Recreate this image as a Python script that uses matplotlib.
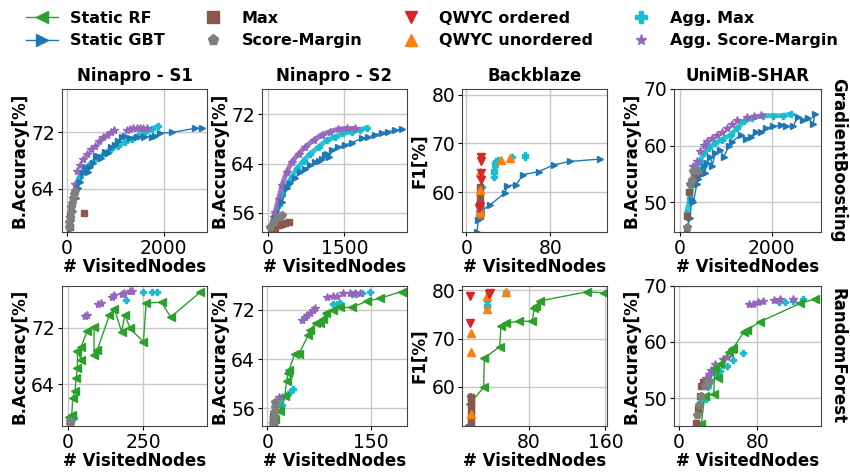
import matplotlib.pyplot as plt
from matplotlib.lines import Line2D

# ---- Ninapro - S1, GradientBoosting ----
s1_gb_gbt = [(56, 58.2), (90, 59.5), (125, 60.8), (180, 62.6), (229, 64.1), (280, 65.0), (333, 66.2),
             (403, 66.9), (440, 66.4), (472, 67.1), (540, 67.6), (611, 68.7), (646, 68.7), (700, 68.4),
             (785, 69.2), (850, 69.0), (924, 69.9), (1000, 70.2), (1063, 70.8), (1132, 71.3), (1201, 71.5),
             (1300, 71.2), (1450, 71.3), (1600, 71.4), (1757, 71.4), (1826, 71.5), (1931, 71.9),
             (2174, 72.0), (2660, 72.6), (2799, 72.6)]
s1_gb_max = [(56, 60.1), (60, 58.5), (347, 60.5)]
s1_gb_sm = [(35, 58.5), (49, 59.2), (62, 59.9), (76, 60.6), (90, 61.3), (111, 62.0), (125, 62.7),
            (139, 63.2), (160, 63.6)]
s1_gb_amax = [(60, 58.5), (90, 59.9), (146, 62.7), (194, 64.6), (264, 65.7), (368, 66.9), (507, 67.6),
              (645, 68.3), (784, 69.0), (923, 69.7), (1062, 70.1), (1201, 70.6), (1340, 71.1),
              (1479, 71.5), (1618, 72.0), (1756, 72.5), (1895, 72.9)]
s1_gb_asm = [(160, 64.6), (215, 66.5), (264, 67.3), (333, 68.2), (423, 68.9), (507, 69.7), (576, 70.1),
             (660, 70.8), (750, 71.3), (840, 71.6), (923, 72.0), (979, 72.3), (1236, 72.3), (1306, 72.5),
             (1375, 72.6), (1444, 72.6), (1514, 72.6), (1583, 72.6), (1653, 72.6)]

# ---- Ninapro - S2, GradientBoosting ----
s2_gb_gbt = [(90, 53.2), (149, 55.1), (279, 57.8), (376, 60.0), (441, 60.8), (539, 61.6), (636, 62.7),
             (733, 63.2), (831, 63.7), (928, 64.2), (1000, 64.4), (1058, 64.8), (1123, 65.4), (1155, 65.6),
             (1200, 65.0), (1253, 66.2), (1382, 66.7), (1512, 67.0), (1642, 67.4), (1837, 68.1),
             (1967, 68.3), (2096, 68.7), (2226, 69.0), (2356, 69.2), (2486, 69.4), (2616, 69.6)]
s2_gb_max = [(149, 53.5), (214, 54.0), (279, 54.2), (344, 54.4), (409, 54.5)]
s2_gb_sm = [(52, 53.7), (117, 54.5), (182, 55.1), (247, 55.4), (279, 55.6)]
s2_gb_amax = [(84, 53.5), (149, 55.4), (214, 57.3), (279, 58.9), (376, 60.5), (474, 61.8), (571, 63.2),
              (701, 64.5), (831, 65.6), (993, 66.7), (1155, 67.8), (1317, 68.3), (1480, 68.9),
              (1642, 69.2), (1804, 69.5), (1934, 69.8)]
s2_gb_asm = [(52, 53.5), (117, 55.4), (149, 56.2), (214, 58.3), (279, 60.5), (376, 62.7), (474, 64.3),
             (604, 65.6), (733, 66.7), (896, 67.8), (1058, 68.7), (1220, 69.2), (1382, 69.6),
             (1545, 69.7), (1707, 69.7)]

# ---- Backblaze, GradientBoosting ----
bb_gb_gbt = [(10.2, 51.9), (11.7, 54.3), (14.0, 56.0), (22.9, 57.4), (37.1, 59.9), (38.7, 61.3),
             (47.6, 61.5), (54.0, 63.6), (68.9, 64.2), (83.2, 65.6), (98.4, 66.3), (127.6, 66.8)]
bb_gb_max = [(13.3, 55.0), (13.3, 56.0), (13.3, 57.0), (13.3, 58.0), (13.3, 59.0), (13.3, 60.0),
             (13.3, 61.0)]
bb_gb_sm = [(13.0, 55.2), (13.0, 56.0), (13.0, 57.0)]
bb_gb_qo = [(14.3, 67.2), (14.3, 66.3), (14.3, 63.9), (14.0, 62.5), (13.5, 57.1), (12.0, 56.8)]
bb_gb_qu = [(13.3, 64.2), (12.7, 60.5), (13.3, 56.0), (33.0, 66.6), (41.3, 67.0)]
bb_gb_amax = [(14.9, 61.0), (26.0, 63.2), (26.0, 63.9), (26.7, 64.6), (27.0, 65.3), (27.6, 66.0),
              (28.6, 66.3), (29.8, 66.5), (43.5, 67.3), (56.2, 67.7), (56.2, 67.2)]

# ---- UniMiB-SHAR, GradientBoosting ----
uni_gb_gbt = [(147, 45.1), (220, 47.3), (257, 50.5), (290, 50.0), (367, 53.2), (400, 54.2), (441, 54.9),
              (515, 56.4), (540, 55.2), (588, 57.0), (662, 58.1), (700, 56.5), (772, 58.7), (882, 59.3),
              (950, 58.0), (1066, 59.9), (1139, 60.7), (1323, 61.9), (1430, 61.2), (1544, 61.6),
              (1654, 62.5), (1764, 62.4), (1874, 63.1), (2021, 63.4), (2205, 63.6), (2315, 63.4),
              (2462, 63.4), (2572, 65.1), (2683, 64.5), (2793, 64.9), (2903, 63.8), (2940, 65.6)]
uni_gb_max = [(147, 47.6), (198, 51.9), (257, 53.7), (316, 54.6)]
uni_gb_sm = [(147, 45.6), (220, 53.3), (257, 54.0), (294, 55.6), (367, 55.6)]
uni_gb_amax = [(147, 48.2), (220, 50.8), (294, 54.3), (367, 56.1), (441, 57.3), (515, 58.7), (625, 59.6),
               (772, 60.5), (919, 61.1), (1103, 61.9), (1250, 63.1), (1397, 64.3), (1580, 64.9),
               (1801, 65.3), (2021, 65.3), (2242, 65.3), (2426, 65.6)]
uni_gb_asm = [(294, 56.4), (367, 57.3), (441, 59.0), (515, 60.2), (588, 60.8), (698, 61.3), (808, 61.9),
              (919, 62.5), (1029, 63.1), (1139, 63.8), (1250, 64.6), (1470, 65.0), (1617, 65.3),
              (1764, 65.4)]

# ---- Ninapro - S1, RandomForest ----
s1_rf_rf = [(4.4, 59.4), (13.2, 59.6), (16.5, 62.1), (24.2, 63.1), (27.5, 64.9), (31.9, 66.3),
            (31.9, 68.7), (44.0, 67.5), (44.0, 69.3), (65.0, 71.6), (86.9, 72.1), (86.9, 68.2),
            (97.9, 68.9), (137.8, 73.8), (154.0, 74.7), (178.0, 71.4), (189.0, 73.8), (206.0, 71.9),
            (250.0, 70.0), (259.0, 75.5), (310.0, 75.6), (340.0, 73.5), (437.0, 77.0)]
s1_rf_max = [(8.0, 58.2)]
s1_rf_sm = [(7.7, 58.4), (9.0, 58.8)]
s1_rf_amax = [(13.2, 59.5), (20.9, 59.3), (193.0, 75.95), (248.0, 77.0), (277.0, 77.0), (294.0, 77.0)]
s1_rf_asm = [(57.2, 73.6), (65.0, 73.8), (101.0, 75.4), (109.0, 75.5), (145.0, 76.4), (153.0, 76.6),
             (178.0, 76.7), (187.0, 76.9), (204.0, 77.2), (211.0, 77.2)]

# ---- Ninapro - S2, RandomForest ----
s2_rf_rf = [(8.3, 53.2), (10.7, 54.3), (18.0, 55.5), (25.2, 58.0), (27.7, 60.4), (30.1, 61.8),
            (31.6, 62.3), (39.8, 64.9), (46.1, 64.9), (59.2, 67.9), (61.6, 68.7), (70.4, 69.8),
            (76.2, 69.9), (81.1, 70.6), (84.9, 71.5), (95.6, 72.0), (105.3, 72.4), (122.3, 72.4),
            (144.2, 73.4), (163.6, 73.9), (195.1, 75.0)]
s2_rf_max = [(7.3, 54.8), (8.0, 54.2)]
s2_rf_sm = [(8.0, 53.6), (8.8, 54.5), (9.5, 55.4), (10.2, 56.2), (10.8, 57.0)]
s2_rf_amax = [(18.0, 56.7), (20.4, 56.5), (28.6, 58.1), (32.5, 58.6), (37.4, 59.1), (95.6, 72.9),
              (100.5, 72.9), (105.3, 73.1), (122.3, 74.6), (128.6, 74.6), (136.9, 74.8), (149.0, 75.0)]
s2_rf_asm = [(16.5, 57.8), (20.4, 57.9), (49.5, 70.3), (54.4, 70.8), (57.8, 71.1), (61.6, 71.5),
             (66.5, 72.0), (68.9, 72.3), (86.9, 74.1), (95.6, 74.2), (100.5, 74.3), (110.2, 74.8),
             (119.9, 74.8), (127.2, 74.8), (134.5, 74.8)]

# ---- Backblaze, RandomForest ----
bb_rf_rf = [(17.4, 52.1), (18.4, 56.5), (33.0, 59.9), (33.7, 66.0), (49.7, 68.3), (51.1, 72.7),
            (56.7, 73.2), (69.6, 73.6), (83.5, 73.6), (86.0, 76.3), (88.0, 76.7), (91.5, 77.8),
            (140.9, 79.7), (158.3, 79.5)]
bb_rf_max = [(20.1, 52.2), (20.1, 53.2), (20.1, 54.2), (20.1, 55.2), (20.1, 56.2), (20.1, 57.2),
             (20.1, 58.0)]
bb_rf_qo = [(18.4, 78.8), (18.4, 73.3), (38.3, 79.3), (40.0, 79.5)]
bb_rf_qu = [(20.1, 71.2), (20.1, 67.3), (20.1, 54.4), (36.6, 76.1), (36.6, 78.8), (56.7, 79.7)]
bb_rf_amax = [(19.1, 58.2), (36.6, 77.8), (36.6, 77.0), (36.6, 76.5), (56.7, 79.7)]

# ---- UniMiB-SHAR, RandomForest ----
uni_rf_rf = [(22.9, 45.4), (26.3, 50.4), (35.6, 50.7), (36.6, 55.4), (40.0, 53.6), (41.7, 56.0),
             (51.3, 58.3), (53.7, 58.7), (55.4, 58.9), (66.3, 61.8), (69.1, 62.1), (82.7, 63.6),
             (123.8, 66.9), (139.2, 67.7)]
uni_rf_max = [(17.1, 45.6), (19.5, 48.1), (21.2, 50.4), (22.9, 52.2), (24.6, 52.9), (27.4, 52.7)]
uni_rf_sm = [(18.5, 46.9), (20.5, 48.7), (22.9, 50.4), (26.3, 52.2), (28.7, 52.9), (30.8, 52.9)]
uni_rf_amax = [(21.2, 49.2), (27.4, 49.8), (29.7, 51.9), (31.5, 53.3), (36.6, 54.2), (41.7, 54.8),
               (48.6, 55.7), (55.4, 56.7), (65.0, 58.0), (102.6, 67.1), (108.4, 67.2), (116.9, 67.4),
               (126.5, 67.7)]
uni_rf_asm = [(27.4, 53.5), (30.8, 54.2), (33.2, 55.0), (36.6, 56.1), (45.1, 57.0), (48.6, 57.3),
              (71.8, 66.7), (75.9, 66.8), (81.0, 67.1), (86.2, 67.4), (97.1, 67.5), (103.3, 67.7),
              (116.2, 67.7)]

titles = ["Ninapro - S1", "Ninapro - S2", "Backblaze", "UniMiB-SHAR"]
ylabels = ["B.Accuracy[%]", "B.Accuracy[%]", "F1[%]", "B.Accuracy[%]"]
row_names = ["GradientBoosting", "RandomForest"]

styles = {
    "rf": dict(color="tab:green", marker="<", ls="-", lw=1, ms=6, label="Static RF"),
    "gbt": dict(color="tab:blue", marker=">", ls="-", lw=1, ms=5, label="Static GBT"),
    "max": dict(color="tab:brown", marker="s", ls="none", ms=5, label="Max"),
    "sm": dict(color="tab:gray", marker="p", ls="none", ms=6, label="Score-Margin"),
    "qo": dict(color="tab:red", marker="v", ls="none", ms=6, label="QWYC ordered"),
    "qu": dict(color="tab:orange", marker="^", ls="none", ms=6, label="QWYC unordered"),
    "amax": dict(color="tab:cyan", marker="P", ls="none", ms=5, label="Agg. Max"),
    "asm": dict(color="tab:purple", marker="*", ls="none", ms=6, label="Agg. Score-Margin"),
}
draw_order = ["amax", "asm", "rf", "gbt", "max", "sm", "qu", "qo"]

panels = [
    # row 0
    dict(series={"gbt": s1_gb_gbt, "max": s1_gb_max, "sm": s1_gb_sm, "amax": s1_gb_amax, "asm": s1_gb_asm},
         dense=["amax"], xlim=(-100, 2900), ylim=(57.8, 78.2), xt=[0, 2000], yt=[64, 72]),
    dict(series={"gbt": s2_gb_gbt, "max": s2_gb_max, "sm": s2_gb_sm, "amax": s2_gb_amax, "asm": s2_gb_asm},
         dense=["amax", "asm"], xlim=(-110, 2720), ylim=(52.9, 76.1), xt=[0, 1500], yt=[56, 64, 72]),
    dict(series={"gbt": bb_gb_gbt, "max": bb_gb_max, "sm": bb_gb_sm, "qo": bb_gb_qo, "qu": bb_gb_qu,
                 "amax": bb_gb_amax},
         dense=[], xlim=(-4, 134), ylim=(51.8, 81.2), xt=[0, 80], yt=[60, 70, 80]),
    dict(series={"gbt": uni_gb_gbt, "max": uni_gb_max, "sm": uni_gb_sm, "amax": uni_gb_amax,
                 "asm": uni_gb_asm},
         dense=["amax"], xlim=(-130, 3075), ylim=(44.8, 70), xt=[0, 2000], yt=[50, 60, 70]),
    # row 1
    dict(series={"rf": s1_rf_rf, "max": s1_rf_max, "sm": s1_rf_sm, "amax": s1_rf_amax, "asm": s1_rf_asm},
         dense=[], xlim=(-19, 460), ylim=(58.1, 77.9), xt=[0, 250], yt=[64, 72]),
    dict(series={"rf": s2_rf_rf, "max": s2_rf_max, "sm": s2_rf_sm, "amax": s2_rf_amax, "asm": s2_rf_asm},
         dense=[], xlim=(-8, 203), ylim=(53.1, 75.9), xt=[0, 150], yt=[56, 64, 72]),
    dict(series={"rf": bb_rf_rf, "max": bb_rf_max, "qo": bb_rf_qo, "qu": bb_rf_qu, "amax": bb_rf_amax},
         dense=[], xlim=(10.4, 161.7), ylim=(51.9, 80.9), xt=[80, 160], yt=[60, 70, 80]),
    dict(series={"rf": uni_rf_rf, "max": uni_rf_max, "sm": uni_rf_sm, "amax": uni_rf_amax,
                 "asm": uni_rf_asm},
         dense=[], xlim=(-5, 145), ylim=(45, 70), xt=[0, 80], yt=[50, 60, 70]),
]

# axes boxes in pixels (left, right) and (top, bottom)
W, H = 850, 472
cols_px = [(62, 207), (262, 407), (462, 607), (674, 821)]
rows_px = [(89, 232), (286, 426)]

fig = plt.figure(figsize=(8.5, 4.72), dpi=100)

for i, p in enumerate(panels):
    r, c = divmod(i, 4)
    (l, rr), (t, b) = cols_px[c], rows_px[r]
    ax = fig.add_axes([l / W, 1 - b / H, (rr - l) / W, (b - t) / H])
    for key in draw_order:
        if key not in p["series"]:
            continue
        xs, ys = zip(*p["series"][key])
        st = dict(styles[key])
        st.pop("label")
        if key in p["dense"]:
            ax.plot(xs, ys, color=st["color"], lw=3.5, alpha=0.9, solid_capstyle="round")
        ax.plot(xs, ys, **st)
    ax.set_xlim(*p["xlim"])
    ax.set_ylim(*p["ylim"])
    ax.set_xticks(p["xt"])
    ax.set_yticks(p["yt"])
    ax.tick_params(labelsize=13.5, length=3, pad=2)
    ax.grid(True, color="#c8c8c8", lw=1)
    ax.set_axisbelow(True)
    for s in ax.spines.values():
        s.set_color("#444444")
    ax.set_xlabel("# VisitedNodes", fontsize=12, fontweight="bold", labelpad=0)
    ax.set_ylabel(ylabels[c], fontsize=12, fontweight="bold", labelpad=2)
    if r == 0:
        ax.set_title(titles[c], fontsize=12, fontweight="bold")
    if c == 3:
        ax.text(1.115, 0.5, row_names[r], transform=ax.transAxes, rotation=270,
                ha="center", va="center", fontsize=12, fontweight="bold")

handles = []
for key in ["rf", "gbt", "max", "sm", "qo", "qu", "amax", "asm"]:
    st = dict(styles[key])
    lab = st.pop("label")
    st["ms"] = 8
    handles.append(Line2D([], [], label=lab, **st))
fig.legend(handles=handles, loc="upper center", bbox_to_anchor=(0.508, 1.007), ncol=4, frameon=False,
           prop=dict(size=11.5, weight="bold"), labelspacing=0.45)

fig.savefig("out.png", dpi=100)
